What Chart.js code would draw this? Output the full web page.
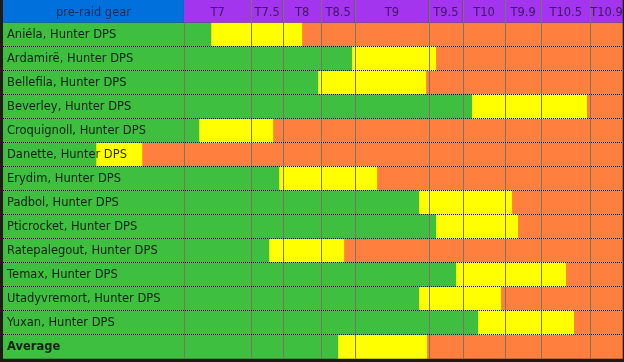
<!DOCTYPE html>
<html><head><meta charset="utf-8">
<script src="https://cdn.jsdelivr.net/npm/chart.js@4/dist/chart.umd.min.js"></script>
<style>html,body{margin:0;padding:0;background:#1e1b16;}canvas{display:block;}</style>
</head><body>
<canvas id="c" width="624" height="362"></canvas>
<script>
// ---- data ----
const players = ["Aniéla, Hunter DPS","Ardamirë, Hunter DPS","Bellefila, Hunter DPS","Beverley, Hunter DPS",
  "Croquignoll, Hunter DPS","Danette, Hunter DPS","Erydim, Hunter DPS","Padbol, Hunter DPS",
  "Pticrocket, Hunter DPS","Ratepalegout, Hunter DPS","Temax, Hunter DPS","Utadyvremort, Hunter DPS",
  "Yuxan, Hunter DPS","Average"];
const greenEnd  = [208, 349, 315, 469, 196,  93, 276, 416, 433, 266, 453, 416, 475, 335];
const yellowEnd = [299, 433, 423, 584, 270, 139, 374, 509, 515, 341, 563, 498, 571, 424];
const scaleMax = 620;
const tierEdges  = [0, 181, 248.5, 280, 318.5, 352, 426, 460, 502.5, 538.5, 587.5, 620];
const tierLabels = ["pre-raid gear","T7","T7.5","T8","T8.5","T9","T9.5","T10","T9.9","T10.5","T10.9"];

const C = {green:'#3fbf3f', yellow:'#ffff00', orange:'#ff7f3f', blue:'#0070dd', purple:'#a335ee',
  grid:'#7d7462', font:'"DejaVu Sans", Verdana, sans-serif'};

const yellowW = yellowEnd.map((v,i)=>v-greenEnd[i]);
const orangeW = yellowEnd.map(v=>scaleMax-v);
const tierCenters = tierLabels.map((_,i)=>(tierEdges[i]+tierEdges[i+1])/2);

const tablePlugin = {
  id:'table',
  beforeDraw(chart){
    const {ctx, chartArea, scales:{x}} = chart;
    ctx.save();
    ctx.fillStyle = '#1e1b16';
    ctx.fillRect(0,0,chart.width,chart.height);
    for(let i=0;i<tierLabels.length;i++){
      const x0 = x.getPixelForValue(tierEdges[i]), x1 = x.getPixelForValue(tierEdges[i+1]);
      ctx.fillStyle = i===0 ? C.blue : C.purple;
      ctx.fillRect(x0, 0, x1-x0, chartArea.top);
    }
    ctx.restore();
  },
  afterDatasetsDraw(chart){
    const {ctx, chartArea, scales:{x,y}} = chart;
    ctx.save();
    ctx.lineWidth = 1;
    ctx.strokeStyle = C.grid;
    for(let i=1;i<tierEdges.length-1;i++){
      const px = Math.round(x.getPixelForValue(tierEdges[i]))+0.5;
      ctx.beginPath();
      ctx.moveTo(px, i===1 ? chartArea.top : 0);
      ctx.lineTo(px, chartArea.bottom);
      ctx.stroke();
    }
    ctx.strokeStyle = '#000';
    ctx.setLineDash([1,1]);
    for(let i=0;i<players.length-1;i++){
      const py = Math.floor((y.getPixelForValue(i)+y.getPixelForValue(i+1))/2)+0.5;
      ctx.beginPath();
      ctx.moveTo(chartArea.left, py);
      ctx.lineTo(chartArea.right, py);
      ctx.stroke();
    }
    ctx.restore();
  }
};

const noPad = s => { s.paddingLeft = s.paddingRight = s.paddingTop = s.paddingBottom = 0; };
const common = {barPercentage:1, categoryPercentage:1, borderWidth:0};
new Chart(document.getElementById('c'), {
  type:'bar',
  data:{
    labels: players,
    datasets:[
      {label:'green', data:greenEnd, backgroundColor:C.green, ...common},
      {label:'yellow', data:yellowW, backgroundColor:C.yellow, ...common},
      {label:'orange', data:orangeW, backgroundColor:C.orange, ...common}
    ]
  },
  options:{
    indexAxis:'y', responsive:false, animation:false, devicePixelRatio:1,
    layout:{padding:{left:3, right:1.3, top:0, bottom:3.3}},
    plugins:{legend:{display:false}, tooltip:{enabled:false}},
    scales:{
      x:{type:'linear', position:'top', stacked:true, min:0, max:scaleMax,
        grid:{display:false, drawTicks:false}, border:{display:false},
        afterBuildTicks(s){ s.ticks = tierCenters.map(v=>({value:v})); },
        afterFit(s){ s.height = 22.7; noPad(s); },
        ticks:{autoSkip:false, maxRotation:0, padding:3, z:1,
          color:'rgba(0,0,0,0.6)',
          font:{family:C.font, size:11.5},
          callback:(v,i)=>tierLabels[i]}
      },
      y:{type:'category', stacked:true, offset:true,
        grid:{display:false, drawTicks:false}, border:{display:false},
        afterFit(s){ s.width = 0; noPad(s); },
        ticks:{mirror:true, padding:4, z:1, color:'rgba(0,0,0,0.82)',
          font:(ctx)=>({family:C.font, size:11.5, weight: ctx.index===players.length-1 ? 'bold':'normal'})}
      }
    }
  },
  plugins:[tablePlugin]
});
</script>
</body></html>
